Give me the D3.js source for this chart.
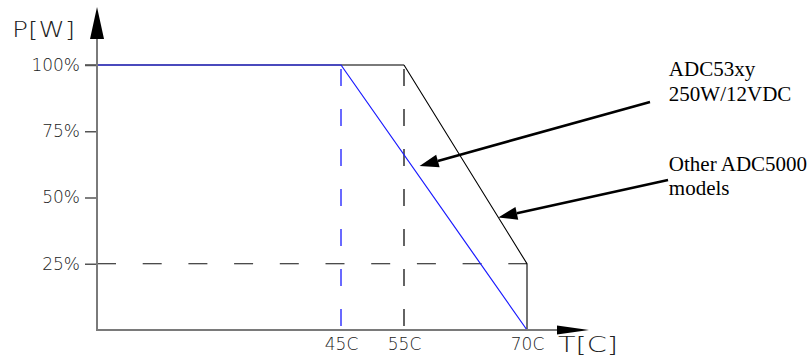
<!DOCTYPE html>
<html>
<head>
<meta charset="utf-8">
<script src="https://cdn.jsdelivr.net/npm/d3@7"></script>
<style>
  body { margin: 0; background: #fff; }
  .cad { font-family: "DejaVu Sans", "Liberation Sans", sans-serif; font-weight: 200; fill: #222; }
  .note { font-family: "Liberation Serif", "Times New Roman", serif; font-size: 21px; fill: #000; }
</style>
</head>
<body>
<script>
// derating data (temperature in C, power in %)
var tempTicks = [45, 55, 70];
var powerTicks = [25, 50, 75, 100];
var adc53xy = [ {t: 0, p: 100}, {t: 45, p: 100}, {t: 70, p: 0} ];
var otherModels = [ {t: 55, p: 100}, {t: 70, p: 25}, {t: 70, p: 0} ];
var noteLabels = [ ['ADC53xy', '250W/12VDC'], ['Other ADC5000', 'models'] ];
var noteTips = [ {t: 56.9, p: 61.9}, {t: 66.5, p: 42.5} ];
var noteTails = [ {t: 85.0, p: 86.0}, {t: 87.2, p: 56.6} ];
var noteText = [ {t: 87.3, p: 95.8}, {t: 87.3, p: 60.1} ];

var w = 810, h = 358;

var svg = d3.select('body')
  .append('svg')
  .attr('width', w)
  .attr('height', h);

// the drawing is not to scale on T, so a piecewise scale
var x = d3.scaleLinear().domain([0, 45, 55, 70]).range([97, 341, 404, 527]);
var y = d3.scaleLinear().domain([0, 100]).range([330, 65]);

var x0 = x(0), y0 = y(0);

// dashed helper lines
svg.append('line')
  .attr('x1', x(45)).attr('x2', x(45))
  .attr('y1', y(100)).attr('y2', y0)
  .attr('stroke', '#1a1aff').attr('stroke-width', 1.3)
  .attr('stroke-dasharray', '17,23').attr('stroke-dashoffset', 36);
svg.append('line')
  .attr('x1', x(55)).attr('x2', x(55))
  .attr('y1', y(100)).attr('y2', y0)
  .attr('stroke', '#111').attr('stroke-width', 1.3)
  .attr('stroke-dasharray', '17,23').attr('stroke-dashoffset', 36);
svg.append('line')
  .attr('x1', x0).attr('x2', x(70))
  .attr('y1', y(25)).attr('y2', y(25))
  .attr('stroke', '#111').attr('stroke-width', 1.2)
  .attr('stroke-dasharray', '19,26.7');

// 100% level up to the 55C knee
svg.append('line')
  .attr('x1', x0 - 12).attr('x2', x(55))
  .attr('y1', y(100)).attr('y2', y(100))
  .attr('stroke', '#7a7a7a').attr('stroke-width', 2);

// y axis ticks and labels
var yAxis = d3.axisLeft(y)
  .tickValues(powerTicks)
  .tickSize(12)
  .tickPadding(5)
  .tickFormat(function (d) { return d + '%'; });
var gy = svg.append('g')
  .attr('transform', 'translate(' + x0 + ',0)')
  .call(yAxis);
gy.select('.domain').remove();
gy.selectAll('line').attr('stroke', '#555').attr('stroke-width', 1.5);
gy.selectAll('text').attr('class', 'cad').attr('font-size', '17px').attr('fill', '#222');

// x axis labels
var xAxis = d3.axisBottom(x)
  .tickValues(tempTicks)
  .tickSize(0)
  .tickPadding(8)
  .tickFormat(function (d) { return d + 'C'; });
var gx = svg.append('g')
  .attr('transform', 'translate(0,' + y0 + ')')
  .call(xAxis);
gx.select('.domain').remove();
gx.selectAll('text').attr('class', 'cad').attr('font-size', '17px').attr('fill', '#222');

// curves
var line = d3.line()
  .x(function (d) { return x(d.t); })
  .y(function (d) { return y(d.p); });

svg.append('path').datum(otherModels)
  .attr('d', line)
  .attr('fill', 'none')
  .attr('stroke', '#000')
  .attr('stroke-width', 1.1);

svg.append('path').datum(adc53xy)
  .attr('d', line)
  .attr('fill', 'none')
  .attr('stroke', '#1a1aff')
  .attr('stroke-width', 1.2);

// axes with arrow heads
svg.append('line')
  .attr('x1', x0).attr('x2', x0)
  .attr('y1', 38).attr('y2', y0 + 1)
  .attr('stroke', '#7a7a7a').attr('stroke-width', 2);
svg.append('line')
  .attr('x1', x0).attr('x2', 560)
  .attr('y1', y0).attr('y2', y0)
  .attr('stroke', '#7a7a7a').attr('stroke-width', 2);
svg.append('path')
  .attr('d', 'M' + x0 + ',7L' + (x0 + 7) + ',39L' + (x0 - 7) + ',39Z')
  .attr('fill', '#000');
svg.append('path')
  .attr('d', 'M589,' + y0 + 'L557,' + (y0 - 4.5) + 'L557,' + (y0 + 4.5) + 'Z')
  .attr('fill', '#000');

// axis titles
svg.append('text').attr('class', 'cad')
  .attr('x', 12).attr('y', 37)
  .attr('font-size', '22px')
  .attr('textLength', 63).attr('lengthAdjust', 'spacingAndGlyphs')
  .text('P[W]');
svg.append('text').attr('class', 'cad')
  .attr('x', 558).attr('y', 352)
  .attr('font-size', '21px')
  .attr('textLength', 60).attr('lengthAdjust', 'spacingAndGlyphs')
  .text('T[C]');

// callout arrows
noteTips.forEach(function (tip, i) {
  var tail = noteTails[i];
  var x1 = x(tail.t), y1 = y(tail.p), x2 = x(tip.t), y2 = y(tip.p);
  var a = Math.atan2(y2 - y1, x2 - x1);
  var len = 19, half = 6.5;
  var bx = x2 - len * Math.cos(a), by = y2 - len * Math.sin(a);
  svg.append('line')
    .attr('x1', x1).attr('y1', y1).attr('x2', bx).attr('y2', by)
    .attr('stroke', '#000').attr('stroke-width', 2.6);
  svg.append('path')
    .attr('d', 'M' + x2 + ',' + y2 +
      'L' + (bx + half * Math.sin(a)) + ',' + (by - half * Math.cos(a)) +
      'L' + (bx - half * Math.sin(a)) + ',' + (by + half * Math.cos(a)) + 'Z')
    .attr('fill', '#000');
});

// callout labels
noteLabels.forEach(function (lines, i) {
  var t = svg.append('text').attr('class', 'note')
    .attr('x', x(noteText[i].t)).attr('y', y(noteText[i].p));
  lines.forEach(function (s, j) {
    t.append('tspan')
      .attr('x', x(noteText[i].t))
      .attr('dy', j === 0 ? 0 : 24.5)
      .text(s);
  });
});
</script>
</body>
</html>
